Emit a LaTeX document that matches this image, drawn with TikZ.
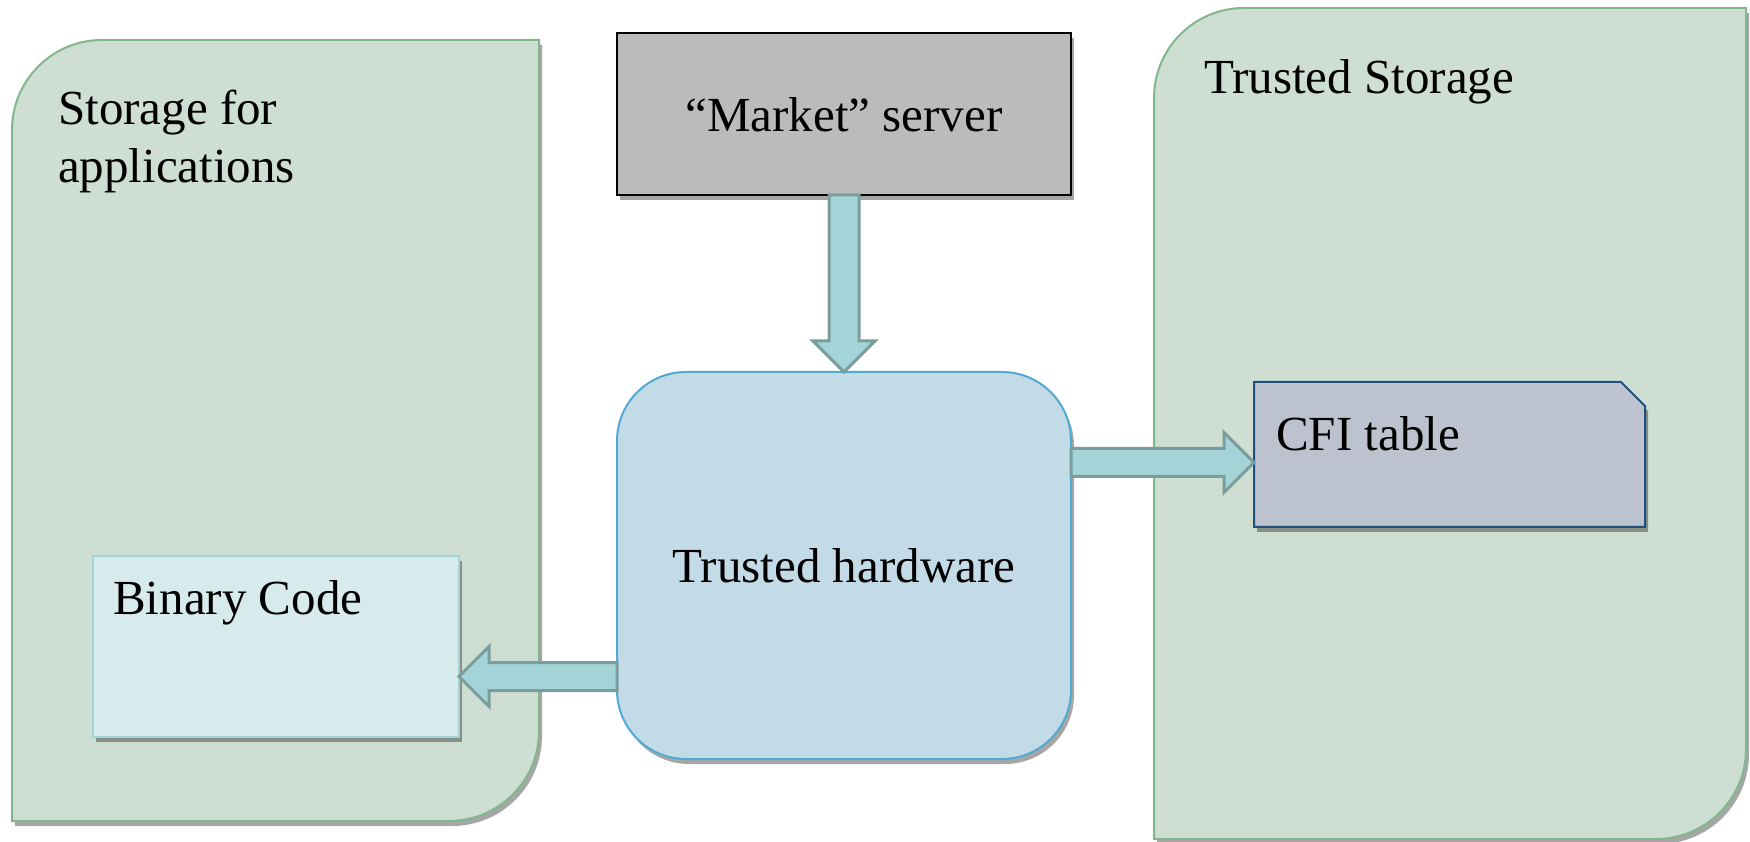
\documentclass[tikz,border=0pt]{standalone}
\usepackage{fontspec}
\setmainfont{Liberation Serif}
\usetikzlibrary{shadows,calc}
\definecolor{contfill}{RGB}{207,222,211}
\definecolor{contline}{RGB}{128,184,140}
\definecolor{mktfill}{RGB}{187,187,187}
\definecolor{hwfill}{RGB}{195,218,231}
\definecolor{hwline}{RGB}{80,170,210}
\definecolor{cfifill}{RGB}{188,195,206}
\definecolor{cfiline}{RGB}{31,80,125}
\definecolor{binfill}{RGB}{215,234,236}
\definecolor{binline}{RGB}{165,212,216}
\definecolor{arrfill}{RGB}{164,212,215}
\definecolor{arrline}{RGB}{122,158,158}
\tikzset{
 shad/.style={drop shadow={shadow xshift=3pt, shadow yshift=-5pt, opacity=0.35, fill=black}},
 container/.style={fill=contfill, draw=contline, line width=2pt, shad},
 box/.style={anchor=south west, inner sep=0pt, outer sep=0pt},
 lbl/.style={font=\fontsize{49}{58}\selectfont, inner sep=0pt, text=black},
 fatarrow/.style={fill=arrfill, draw=arrline, line width=3pt, line join=miter},
}
\begin{document}
\begin{tikzpicture}[x=1pt,y=1pt]
\useasboundingbox (0,0) rectangle (1750,841);
% left container
\draw[container] (12,20) -- (12,711) arc[start angle=180,end angle=90,radius=90] -- (539,801) -- (539,110) arc[start angle=0,end angle=-90,radius=90] -- cycle;
% right container
\draw[container] (1154,2) -- (1154,743) arc[start angle=180,end angle=90,radius=90] -- (1746,833) -- (1746,92) arc[start angle=0,end angle=-90,radius=90] -- cycle;
\node[lbl, anchor=base west] (storlbl) at (58,716) {Storage for};
\node[lbl, anchor=base west] (applbl) at (58,658) {applications};
\node[lbl, anchor=base west] (tslbl) at (1204,747) {Trusted Storage};
% market
\node[box, fill=mktfill, draw=black, line width=2pt, shad, minimum width=454pt, minimum height=162pt] (market) at (617,646) {};
\node[lbl, anchor=base] (mktlbl) at (844,709) {“Market” server};
% hardware
\node[box, fill=hwfill, draw=hwline, line width=2pt, rounded corners=69pt, shad, minimum width=454pt, minimum height=387pt] (hw) at (617,82) {};
\node[lbl, anchor=base] (hwlbl) at (844,258) {Trusted hardware};
% CFI
\node[box, minimum width=391pt, minimum height=145pt] (cfi) at (1254,314) {};
\draw[fill=cfifill, draw=cfiline, line width=2pt, shad] (cfi.south west) -- (cfi.north west) -- ($(cfi.north east)+(-24,0)$) -- ($(cfi.north east)+(0,-24)$) -- (cfi.south east) -- cycle;
\node[lbl, anchor=base west] (cfilbl) at (1276,390) {CFI table};
% binary
\node[box, fill=binfill, draw=binline, line width=2pt, shad, minimum width=366pt, minimum height=181pt] (bin) at (93,104) {};
\node[lbl, anchor=base west] (binlbl) at (113,226) {Binary Code};
% arrows
\draw[fatarrow] ($(market.south)+(-15,0)$) -- ($(hw.north)+(-15,31)$) -- ($(hw.north)+(-31,31)$) -- (hw.north) -- ($(hw.north)+(31,31)$) -- ($(hw.north)+(15,31)$) -- ($(market.south)+(15,0)$) -- cycle;
\coordinate (rtip) at ($(cfi.west)+(0,-8)$);
\coordinate (rtail) at (hw.east |- rtip);
\draw[fatarrow] ($(rtail)+(0,14)$) -- ($(rtip)+(-30,14)$) -- ($(rtip)+(-30,30)$) -- (rtip) -- ($(rtip)+(-30,-30)$) -- ($(rtip)+(-30,-14)$) -- ($(rtail)+(0,-14)$) -- cycle;
\coordinate (ltip) at ($(bin.east)+(0,-30)$);
\coordinate (ltail) at (hw.west |- ltip);
\draw[fatarrow] ($(ltail)+(0,14)$) -- ($(ltip)+(30,14)$) -- ($(ltip)+(30,30)$) -- (ltip) -- ($(ltip)+(30,-30)$) -- ($(ltip)+(30,-14)$) -- ($(ltail)+(0,-14)$) -- cycle;
\end{tikzpicture}
\end{document}
